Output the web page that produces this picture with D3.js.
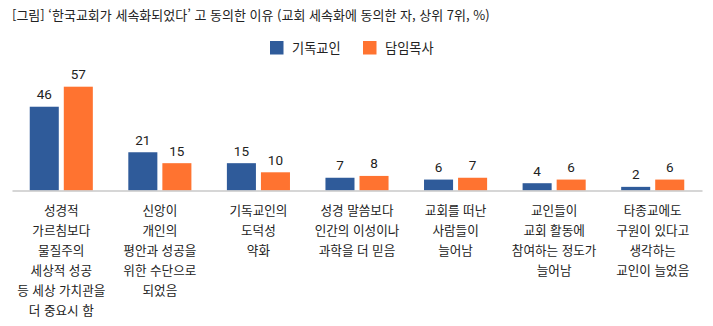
<!DOCTYPE html>
<html lang="ko">
<head>
<meta charset="utf-8">
<script src="https://cdn.jsdelivr.net/npm/d3@7/dist/d3.min.js"></script>
<style>
  html, body { margin: 0; padding: 0; background: #fff; }
  svg { display: block; font-family: "Noto Sans CJK KR", "Noto Sans", sans-serif; }
</style>
</head>
<body>
<svg id="chart" width="713" height="326"></svg>
<script>
// 세속화 동의 이유 (상위 7위, %)
const categories = [
  ["성경적", "가르침보다", "물질주의", "세상적 성공", "등 세상 가치관을", "더 중요시 함"],
  ["신앙이", "개인의", "평안과 성공을", "위한 수단으로", "되었음"],
  ["기독교인의", "도덕성", "약화"],
  ["성경 말씀보다", "인간의 이성이나", "과학을 더 믿음"],
  ["교회를 떠난", "사람들이", "늘어남"],
  ["교인들이", "교회 활동에", "참여하는 정도가", "늘어남"],
  ["타종교에도", "구원이 있다고", "생각하는", "교인이 늘었음"]
];
const seriesNames = ["기독교인", "담임목사"];
const laity = [46, 21, 15, 7, 6, 4, 2];
const pastors = [57, 15, 10, 8, 7, 6, 6];
const colors = ["#2f5b9a", "#ff7330"];
const title = "[그림] ‘한국교회가 세속화되었다’ 고 동의한 이유 (교회 세속화에 동의한 자, 상위 7위, %)";

const svg = d3.select("#chart");
const baseY = 190.5, left = 12, right = 702;

const x0 = d3.scaleBand()
  .domain(d3.range(categories.length))
  .range([left, right])
  .paddingInner(0.36)
  .paddingOuter(0.18);
const x1 = d3.scaleBand()
  .domain([0, 1])
  .range([0, x0.bandwidth()])
  .paddingInner(0.147);
const y = d3.scaleLinear().domain([0, 57]).range([baseY, 86.7]);

// title
svg.append("text")
  .attr("x", 12).attr("y", 20)
  .attr("font-size", 13)
  .attr("fill", "#222")
  .text(title);

// legend
const legend = svg.append("g");
const legendX = [270, 363];
seriesNames.forEach((name, i) => {
  legend.append("rect")
    .attr("x", legendX[i]).attr("y", 41)
    .attr("width", 13.5).attr("height", 13.5)
    .attr("fill", colors[i]);
  legend.append("text")
    .attr("x", legendX[i] + 22).attr("y", 52.5)
    .attr("font-size", 13.2)
    .attr("fill", "#222")
    .text(name);
});

// bars and value labels
const rows = categories.map((c, i) => ({ i, values: [laity[i], pastors[i]] }));
const groups = svg.selectAll("g.grp").data(rows).join("g")
  .attr("class", "grp")
  .attr("transform", d => `translate(${x0(d.i)},0)`);

groups.selectAll("rect").data(d => d.values.map((v, k) => ({ v, k }))).join("rect")
  .attr("x", d => x1(d.k))
  .attr("y", d => y(d.v))
  .attr("width", x1.bandwidth())
  .attr("height", d => baseY - y(d.v))
  .attr("fill", d => colors[d.k]);

groups.selectAll("text.val").data(d => d.values.map((v, k) => ({ v, k }))).join("text")
  .attr("class", "val")
  .attr("x", d => x1(d.k) + x1.bandwidth() / 2)
  .attr("y", d => y(d.v) - 7.5)
  .attr("text-anchor", "middle")
  .attr("font-family", "Roboto, 'Liberation Sans', sans-serif")
  .attr("font-size", 13.5)
  .attr("fill", "#222")
  .text(d => d.v);

// baseline axis
const xAxis = d3.axisBottom(x0).tickSize(0).tickFormat("");
svg.append("g")
  .attr("transform", `translate(0,${baseY})`)
  .call(xAxis)
  .call(g => g.select(".domain").attr("stroke", "#c8c8c8").attr("stroke-width", 1.5));

// category labels
rows.forEach(d => {
  const t = svg.append("text")
    .attr("x", x0(d.i) + x0.bandwidth() / 2)
    .attr("y", 214.5)
    .attr("text-anchor", "middle")
    .attr("font-size", 12.6)
    .attr("fill", "#222");
  categories[d.i].forEach((line, j) => {
    t.append("tspan")
      .attr("x", x0(d.i) + x0.bandwidth() / 2)
      .attr("dy", j === 0 ? 0 : 20)
      .text(line);
  });
});
</script>
</body>
</html>
